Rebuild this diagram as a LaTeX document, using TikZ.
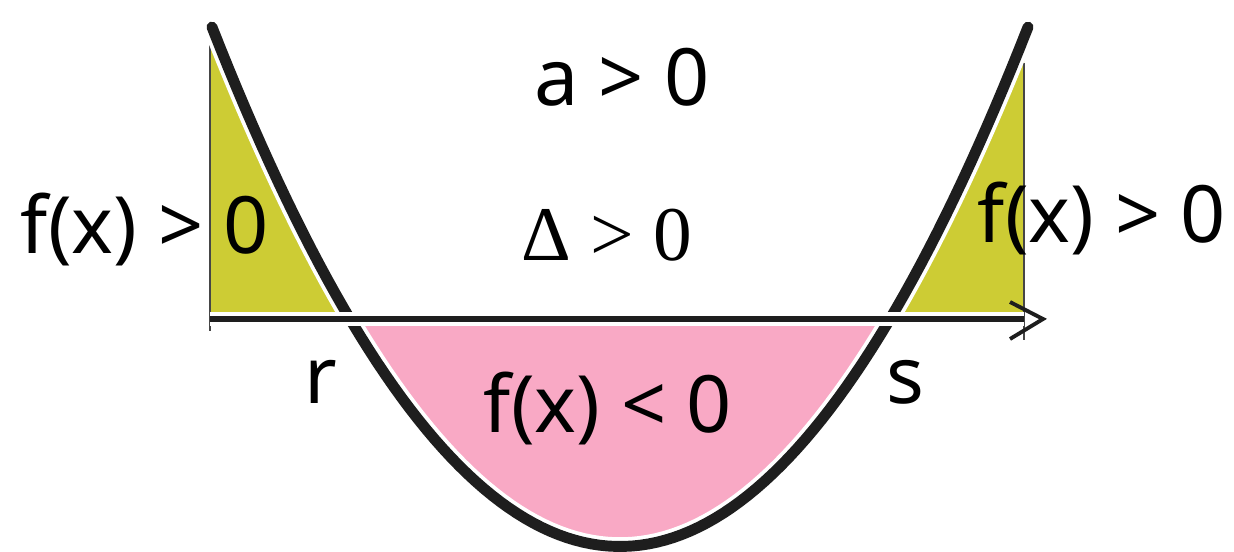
\documentclass[tikz,border=0pt]{standalone}
\usepackage{fontspec}
\setmainfont{Noto Sans}
\newfontfamily\greekserif{Liberation Serif}
\usepackage{xcolor}
\definecolor{fillyellow}{RGB}{205,204,52}
\definecolor{fillpink}{RGB}{249,169,197}
\definecolor{curveblack}{RGB}{30,30,30}
\definecolor{edgegray}{RGB}{70,70,70}

\begin{document}
\begin{tikzpicture}[
  x=0.2cm, y=-0.2cm,
  lbl/.style={anchor=base, inner sep=0pt, font=\fontsize{45}{50}\selectfont},
  halo/.style={white, line width=10.5pt},
  curve/.style={curveblack, line width=6.2pt, line cap=round},
  edge/.style={edgegray, line width=0.6pt}
]
\useasboundingbox (0,0) rectangle (123.4,55.2);
\coordinate (O) at (21,31.9);
\coordinate (E) at (102.4,31.9);

% sign regions
\fill[fillyellow] (O) -- plot[domain=21:35, samples=30] (\x,{31.9-0.0312*(\x-35)*(\x-89)}) -- cycle;
\fill[fillyellow] plot[domain=89:102.4, samples=30] (\x,{31.9-0.0312*(\x-35)*(\x-89)}) -- (E) -- cycle;
\fill[fillpink] plot[domain=35:89, samples=60] (\x,{31.9-0.0312*(\x-35)*(\x-89)}) -- cycle;
\draw[edge] (21,4.3) -- (21,33.1);
\draw[edge] (102.4,6.3) -- (102.4,34);
\draw[edge] (23.5,31.2) -- (23.5,31.9);

% parabola and axis
\draw[halo] plot[domain=21.2:102.8, samples=100] (\x,{31.9-0.0312*(\x-35)*(\x-89)});
\draw[curve] plot[domain=21.2:102.8, samples=100] (\x,{31.9-0.0312*(\x-35)*(\x-89)});
\draw[white, line width=7.5pt] (O) -- (E);
\draw[curveblack, line width=3.6pt] (O) -- (E);
\draw[curveblack, line width=2.2pt] ([shift={(-1.4,-1.7)}]E) -- ([shift={(1.9,0)}]E) -- ([shift={(-1.4,2)}]E);

\node[lbl] (t1) at (62.2,10.5) {a > 0};
\node[lbl, font=\fontsize{44}{50}\greekserif] (t2) at (60.7,26.0) {Δ > 0};
\node[lbl] (t3) at (14.5,25.3) {f(x) > 0};
\node[lbl] (t4) at (110.2,24.2) {f(x) > 0};
\node[lbl] (t5) at (32.1,40.3) {r};
\node[lbl] (t6) at (90.5,40.3) {s};
\node[lbl] (t7) at (60.8,43.2) {f(x) < 0};
\end{tikzpicture}
\end{document}
